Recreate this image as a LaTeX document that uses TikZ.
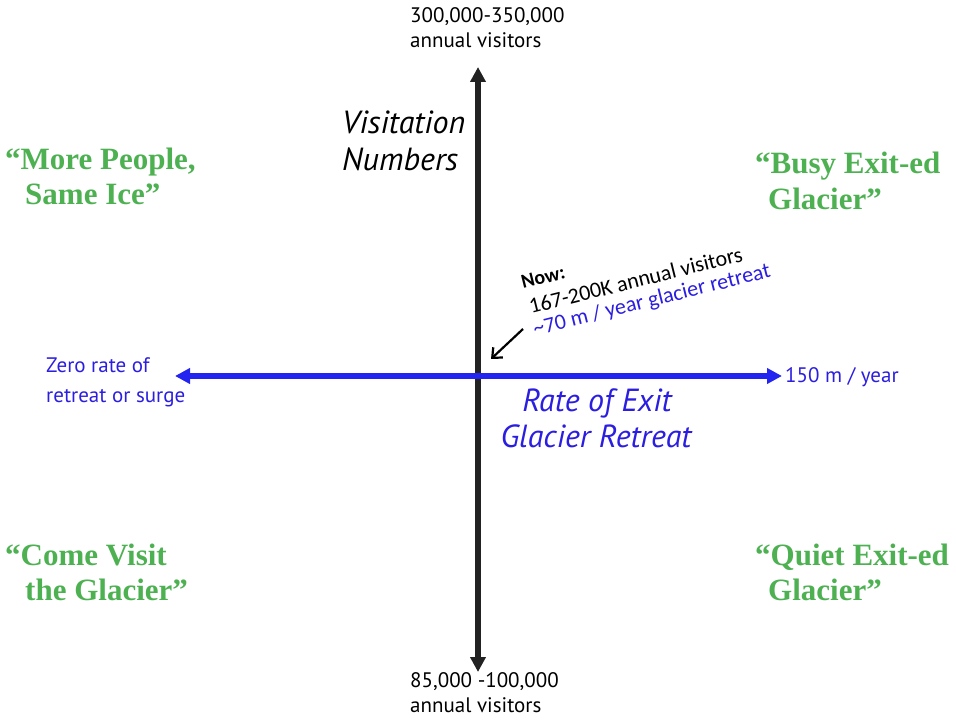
\documentclass[tikz,border=0pt]{standalone}
\usepackage{fontspec}
\setmainfont{PT Sans}
\newfontfamily\grnfont{Liberation Serif}
\newfontfamily\calfont{Carlito}
\usetikzlibrary{arrows.meta}
\definecolor{axblue}{HTML}{2424F0}
\definecolor{txblue}{HTML}{2B1EE0}
\definecolor{grn}{HTML}{4DB152}
\definecolor{axdark}{HTML}{222222}
\tikzset{
  lbl/.style={inner sep=0pt, font=\fontsize{21}{25}\selectfont},
  quad/.style={inner sep=0pt, text=grn, font=\grnfont\bfseries\fontsize{31}{36}\selectfont},
  ital/.style={inner sep=0pt, font=\itshape\fontsize{32}{37}\selectfont},
  axis/.style={line width=6pt, -{Triangle[length=15pt,width=15pt]}},
  nowtxt/.style={inner sep=0pt, anchor=base west, rotate=14, font=\calfont\fontsize{22}{22}\selectfont},
}
\begin{document}
\begin{tikzpicture}[x=1pt,y=-1pt]
\useasboundingbox (0,0) rectangle (956,727);
% axes
\coordinate (vtop) at (478,67);
\coordinate (vbot) at (478,672);
\coordinate (hl) at (175,376);
\coordinate (hr) at (782,376);
\coordinate (vmid) at (478,376);
\draw[axis, axdark] (vmid) -- (vtop);
\draw[axis, axdark] (vmid) -- (vbot);
\draw[axis, axblue] (vmid) -- (hl);
\draw[axis, axblue] (vmid) -- (hr);
% top / bottom labels
\node[lbl, anchor=base west] (t1) at (410,23) {300,000-350,000};
\node[lbl, anchor=base west] (t2) at (410,48) {annual visitors};
\node[lbl, anchor=base west] (b1) at (410,687) {85,000 -100,000};
\node[lbl, anchor=base west] (b2) at (410,712) {annual visitors};
% axis titles
\node[ital, anchor=base west] (v1) at (342,134) {Visitation};
\node[ital, anchor=base west] (v2) at (342,171) {Numbers};
\node[ital, text=txblue, anchor=base] (r1) at (597,411) {Rate of Exit};
\node[ital, text=txblue, anchor=base] (r2) at (596,447) {Glacier Retreat};
% horizontal end labels
\node[lbl, text=txblue, anchor=base west] (z1) at (46,373) {Zero rate of};
\node[lbl, text=txblue, anchor=base west] (z2) at (46,402) {retreat or surge};
\node[lbl, text=txblue, anchor=base west] (m1) at (785,382) {150 m / year};
% quadrant labels
\node[quad, anchor=base west] (q1a) at (5,170) {“More People,};
\node[quad, anchor=base west] (q1b) at (25,205) {Same Ice”};
\node[quad, anchor=base west] (q2a) at (755,174) {“Busy Exit-ed};
\node[quad, anchor=base west] (q2b) at (768,210) {Glacier”};
\node[quad, anchor=base west] (q3a) at (5,565) {“Come Visit};
\node[quad, anchor=base west] (q3b) at (25,600) {the Glacier”};
\node[quad, anchor=base west] (q4a) at (755,565) {“Quiet Exit-ed};
\node[quad, anchor=base west] (q4b) at (768,600) {Glacier”};
% now annotation
\node[nowtxt, font=\calfont\bfseries\fontsize{20}{20}\selectfont] (n0) at (523,289) {Now:};
\node[nowtxt] (n1) at (531,314) {167-200K annual visitors};
\node[nowtxt, text=txblue] (n2) at (535,336) {\textasciitilde70 m / year glacier retreat};
\coordinate (ns) at (523,329);
\coordinate (ne) at (491,359);
\draw[line width=2.2pt, -{Straight Barb[length=8pt,width=14pt]}] (ns) -- (ne);
\end{tikzpicture}
\end{document}
